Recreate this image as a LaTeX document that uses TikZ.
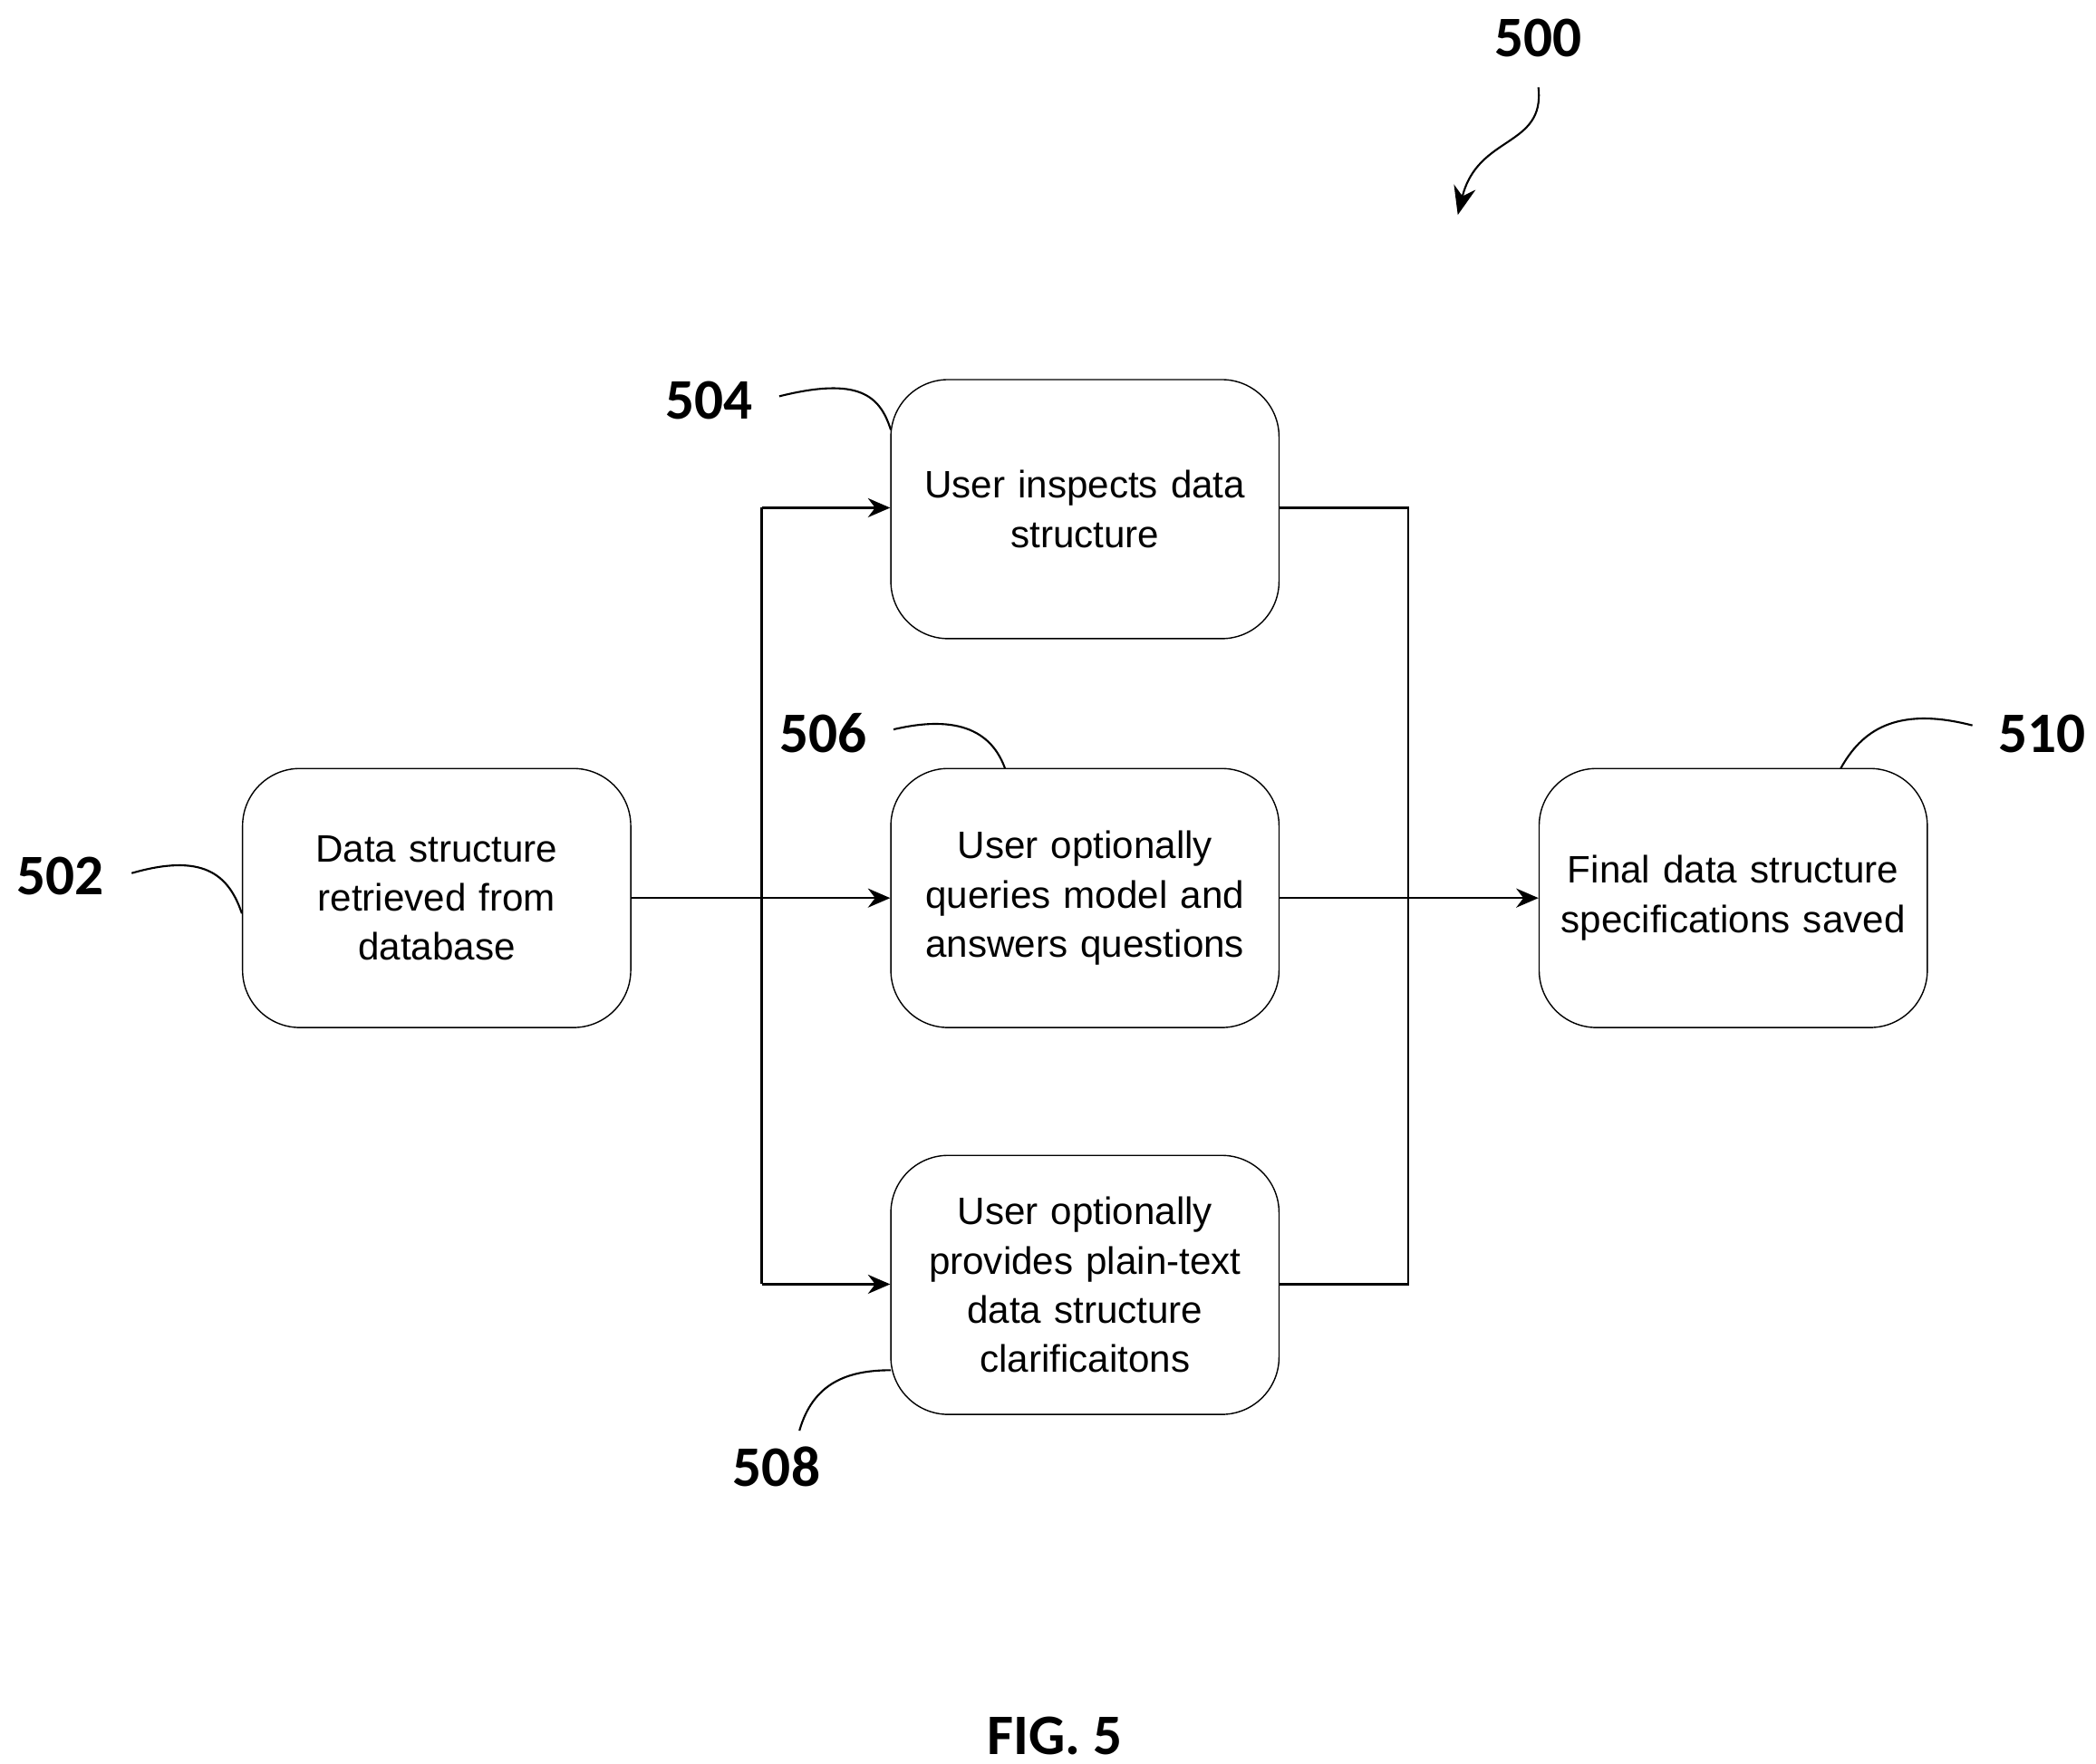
\documentclass[tikz,border=0pt]{standalone}
\usepackage{fontspec}
\setmainfont{Liberation Sans}
\newfontfamily\lab{Carlito}
\usetikzlibrary{arrows.meta}
\begin{document}
\begin{tikzpicture}[x=0.014827cm,y=-0.014827cm,
 box/.style={draw,rounded corners=18pt,minimum width=289\pgflinewidth,align=center,font=\fontsize{12}{15.5}\selectfont,inner sep=0pt},
 ln/.style={draw,line width=0.7pt},
 arr/.style={ln,-{Stealth[length=7pt,width=6pt]}},
 lb/.style={font=\lab\bfseries\fontsize{18}{20}\selectfont},
 lead/.style={line width=0.6pt}]
\useasboundingbox (0,0) rectangle (1560,1313);
\tikzset{bx/.style={box,minimum width=4.285cm,minimum height=2.86cm,text width=4.0cm}}
\node[bx] (b502) at (325,668.5) {Data structure\\retrieved from\\database};
\node[bx] (b504) at (807.5,379) {User inspects data\\structure};
\node[bx] (b506) at (807.5,668.5) {User optionally\\queries model and\\answers questions};
\node[bx] (b508) at (807.5,956.5) {User optionally\\provides plain-text\\data structure\\clarificaitons};
\node[bx] (b510) at (1290,668.5) {Final data structure\\specifications saved};
\coordinate (s1) at (567,378); \coordinate (s2) at (567,956);
\coordinate (m1) at (1048,378); \coordinate (m2) at (1048,956);
\draw[arr] (b502.east) -- (b506.west);
\draw[arr] (s1) -- (b504.west |- s1);
\draw[arr] (s2) -- (b508.west |- s2);
\draw[ln] (s1) -- (s2);
\draw[arr] (b506.east) -- (b510.west);
\draw[ln] (b504.east |- m1) -- (m1) -- (m2) -- (b508.east |- m2);
\node[lb] (l500) at (1145,28) {500};
\node[lb] (l504) at (528,298) {504};
\node[lb] (l506) at (613,546) {506};
\node[lb] (l502) at (45,652) {502};
\node[lb] (l510) at (1520,546) {510};
\node[lb] (l508) at (578,1092) {508};
\node[lb] (fig) at (785,1292) {FIG. 5};
\coordinate (a0) at (1145,65); \coordinate (a1) at (1085,160);
\draw[lead,-{Stealth[length=9pt,width=7pt]}] (a0) .. controls (1150,110) and (1100,100) .. (a1);
\draw[lead] (580,295) .. controls (640,280) and (655,295) .. (663,320);
\draw[lead] (665,543) .. controls (720,530) and (740,550) .. (748,572);
\draw[lead] (98,650) .. controls (150,635) and (170,650) .. (180,680);
\draw[lead] (1468,540) .. controls (1410,525) and (1385,545) .. (1370,572);
\draw[lead] (595,1065) .. controls (605,1030) and (630,1020) .. (663,1020);
\end{tikzpicture}
\end{document}
